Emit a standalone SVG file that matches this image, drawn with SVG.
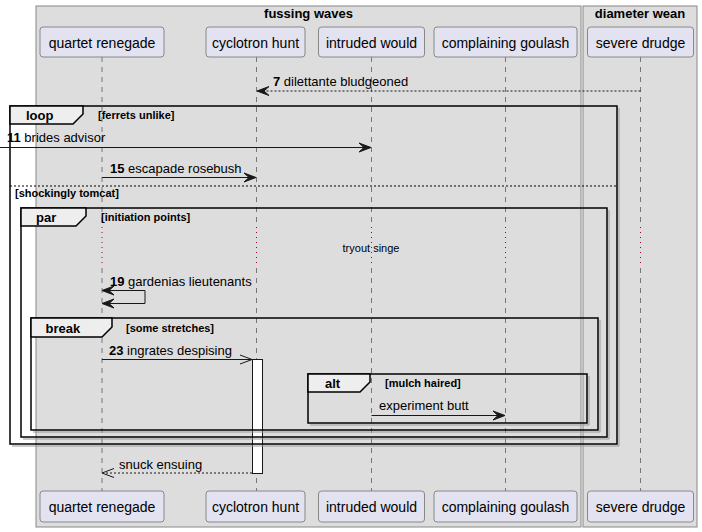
<svg xmlns="http://www.w3.org/2000/svg" width="702" height="532" viewBox="0 0 702 532">
<style>
text{font-family:"Liberation Sans",Arial,sans-serif;fill:#000}
.grp{fill:#DDDDDD;stroke:#888;stroke-width:1}
.gt{font-size:13px;font-weight:bold;text-anchor:middle}
.pb{fill:#E2E2F0;stroke:#888;stroke-width:1}
.pt{font-size:14px;text-anchor:middle}
.life{stroke:#777;stroke-width:1;stroke-dasharray:5,5;fill:none}
.dly{stroke:#A80036;stroke-width:1;stroke-dasharray:1,4;fill:none}
.frame{fill:none;stroke:#000;stroke-width:1.5}
.shadow{fill:none;stroke:#999;stroke-width:1}
.tab{fill:#EEEEEE;stroke:#000;stroke-width:1.5}
.fl{font-size:13px;font-weight:bold}
.fc{font-size:11px;font-weight:bold}
.msg{stroke:#181818;stroke-width:1;fill:none}
.dash{stroke-dasharray:2,2}
.mt{font-size:13px}
.head{fill:#181818;stroke:#181818;stroke-width:1}
.open{fill:none;stroke:#181818;stroke-width:1}
</style>
<rect x="0" y="0" width="702" height="532" fill="#FFFFFF"/>
<g id="box-fussing-waves">
<rect class="grp" x="36" y="6" width="545" height="521"/>
<text class="gt" x="308.5" y="18">fussing waves</text>
</g>
<g id="box-diameter-wean">
<rect class="grp" x="583" y="6" width="114" height="521"/>
<text class="gt" x="640" y="18">diameter wean</text>
</g>
<g id="lifelines">
<line class="life" x1="102" y1="57" x2="102" y2="226"/>
<line class="dly" x1="102" y1="227" x2="102" y2="267"/>
<line class="life" x1="102" y1="268" x2="102" y2="491"/>
<line class="life" x1="256.5" y1="57" x2="256.5" y2="226"/>
<line class="dly" x1="256.5" y1="227" x2="256.5" y2="267"/>
<line class="life" x1="256.5" y1="268" x2="256.5" y2="491"/>
<line class="life" x1="371.5" y1="57" x2="371.5" y2="226"/>
<line class="dly" x1="371.5" y1="227" x2="371.5" y2="267"/>
<line class="life" x1="371.5" y1="268" x2="371.5" y2="491"/>
<line class="life" x1="505.5" y1="57" x2="505.5" y2="226"/>
<line class="dly" x1="505.5" y1="227" x2="505.5" y2="267"/>
<line class="life" x1="505.5" y1="268" x2="505.5" y2="491"/>
<line class="life" x1="640.5" y1="57" x2="640.5" y2="226"/>
<line class="dly" x1="640.5" y1="227" x2="640.5" y2="267"/>
<line class="life" x1="640.5" y1="268" x2="640.5" y2="491"/>
</g>
<g id="p-quartet-renegade">
<rect class="pb" x="40" y="27" width="124" height="30" rx="3"/>
<text class="pt" x="102" y="47.5">quartet renegade</text>
<rect class="pb" x="40" y="491" width="124" height="31" rx="3"/>
<text class="pt" x="102" y="512">quartet renegade</text>
</g>
<g id="p-cyclotron-hunt">
<rect class="pb" x="206" y="27" width="99" height="30" rx="3"/>
<text class="pt" x="255.5" y="47.5">cyclotron hunt</text>
<rect class="pb" x="206" y="491" width="99" height="31" rx="3"/>
<text class="pt" x="255.5" y="512">cyclotron hunt</text>
</g>
<g id="p-intruded-would">
<rect class="pb" x="318.5" y="27" width="106" height="30" rx="3"/>
<text class="pt" x="371.5" y="47.5">intruded would</text>
<rect class="pb" x="318.5" y="491" width="106" height="31" rx="3"/>
<text class="pt" x="371.5" y="512">intruded would</text>
</g>
<g id="p-complaining-goulash">
<rect class="pb" x="434" y="27" width="143" height="30" rx="3"/>
<text class="pt" x="505.5" y="47.5">complaining goulash</text>
<rect class="pb" x="434" y="491" width="143" height="31" rx="3"/>
<text class="pt" x="505.5" y="512">complaining goulash</text>
</g>
<g id="p-severe-drudge">
<rect class="pb" x="587.5" y="27" width="106" height="30" rx="3"/>
<text class="pt" x="640.5" y="47.5">severe drudge</text>
<rect class="pb" x="587.5" y="491" width="106" height="31" rx="3"/>
<text class="pt" x="640.5" y="512">severe drudge</text>
</g>
<g id="activation">
<rect x="252.5" y="359.5" width="10" height="114" fill="#FFFFFF" stroke="#181818" stroke-width="1"/>
</g>
<g id="frames">
<polyline class="shadow" points="619,108 619,446 12,446"/>
<rect class="frame" x="10" y="106" width="607" height="338"/>
<polygon class="tab" points="10,106 83,106 83,114 73,124 10,124"/>
<text class="fl" x="26" y="120">loop</text>
<text class="fc" x="98" y="119">[ferrets unlike]</text>
<line x1="10" y1="186" x2="617" y2="186" stroke="#000" stroke-width="1" stroke-dasharray="2,2"/>
<text class="fc" x="15" y="197">[shockingly tomcat]</text>
<polyline class="shadow" points="609,210 609,439 23,439"/>
<rect class="frame" x="21" y="208" width="586" height="229"/>
<polygon class="tab" points="21,208 86,208 86,216 76,226 21,226"/>
<text class="fl" x="36" y="222">par</text>
<text class="fc" x="101" y="221">[initiation points]</text>
<polyline class="shadow" points="600,320 600,432 33,432"/>
<rect class="frame" x="31" y="318" width="567" height="112"/>
<polygon class="tab" points="31,318 112,318 112,327 102,337 31,337"/>
<text class="fl" x="45.5" y="332.5">break</text>
<text class="fc" x="126" y="331.5">[some stretches]</text>
<polyline class="shadow" points="589,376 589,425 310,425"/>
<rect class="frame" x="308" y="374" width="279" height="49"/>
<polygon class="tab" points="308,374 370,374 370,382 360,392 308,392"/>
<text class="fl" x="325" y="388">alt</text>
<text class="fc" x="385" y="387">[mulch haired]</text>
</g>
<g id="connectors">
<line class="msg dash" x1="640.5" y1="91" x2="258" y2="91"/>
<polygon class="head" points="257,91 269,86.5 264,91 269,95.5"/>
<text class="mt" x="273" y="86"><tspan font-weight="bold">7</tspan> dilettante bludgeoned</text>

<line class="msg" x1="0" y1="147.5" x2="370" y2="147.5"/>
<polygon class="head" points="371,147.5 359,143 364,147.5 359,152"/>
<text class="mt" x="7" y="142"><tspan font-weight="bold">11</tspan> brides advisor</text>

<line class="msg" x1="102" y1="177.5" x2="255" y2="177.5"/>
<polygon class="head" points="256,177.5 244,173 249,177.5 244,182"/>
<text class="mt" x="110" y="173"><tspan font-weight="bold">15</tspan> escapade rosebush</text>

<text x="371" y="252" font-size="11" text-anchor="middle">tryout singe</text>

<polyline class="msg" points="103,290.5 145,290.5 145,303.5 103,303.5"/>
<polygon class="head" points="102,290.5 114,286 109,290.5 114,295"/>
<polygon class="head" points="102,303.5 114,299 109,303.5 114,308"/>
<text class="mt" x="110" y="285.5"><tspan font-weight="bold">19</tspan> gardenias lieutenants</text>

<line class="msg" x1="102" y1="359.5" x2="252" y2="359.5"/>
<polyline class="open" points="240,355 252,359.5 240,364"/>
<text class="mt" x="109" y="355"><tspan font-weight="bold">23</tspan> ingrates despising</text>

<line class="msg" x1="371.5" y1="415.5" x2="504" y2="415.5"/>
<polygon class="head" points="505,415.5 493,411 498,415.5 493,420"/>
<text class="mt" x="379" y="410">experiment butt</text>

<line class="msg dash" x1="252" y1="473" x2="103" y2="473"/>
<polyline class="open" points="114,468.5 102,473 114,477.5"/>
<text class="mt" x="119" y="468.5">snuck ensuing</text>
</g>
</svg>
